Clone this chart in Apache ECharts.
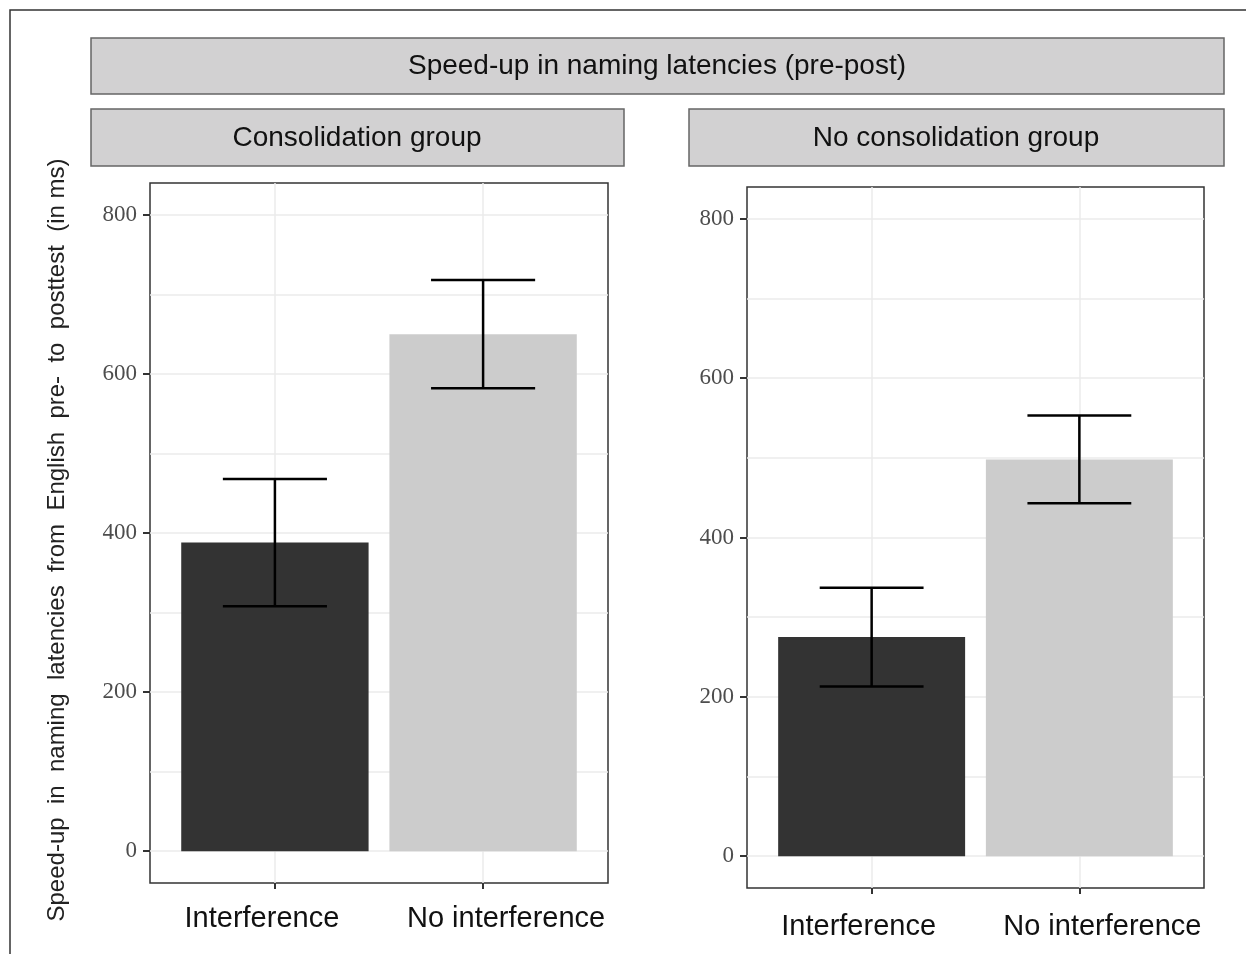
<!DOCTYPE html>
<html>
<head>
<meta charset="utf-8">
<script src="https://cdn.jsdelivr.net/npm/echarts@6/dist/echarts.min.js"></script>
<style>
  html, body { margin: 0; padding: 0; background: #fff; }
  #chart { width: 1246px; height: 954px; }
</style>
</head>
<body>
<div id="chart"></div>
<script>
// data (ms)
var conditions = ['Interference', 'No interference'];
var conditionPos = [1, 2];
var consolidationMean = [388, 650];
var consolidationSE = [80, 68];
var noConsolidationMean = [275, 498];
var noConsolidationSE = [62, 55];
var yTicks = [0, 200, 400, 600, 800];
var yMinor = [100, 300, 500, 700];

var barColors = ['#333333', '#cccccc'];
var sans = 'Liberation Sans, Arial, sans-serif';
var serif = 'Liberation Serif, Times New Roman, serif';

var chart = echarts.init(document.getElementById('chart'));

function barData(means) {
  return means.map(function (m, i) { return [conditionPos[i], m]; });
}
function errData(means, se) {
  return means.map(function (m, i) { return [conditionPos[i], m - se[i], m + se[i]]; });
}

function renderBar(params, api) {
  var x = api.value(0);
  var top = api.coord([x, api.value(1)]);
  var base = api.coord([x, 0]);
  var w = api.size([0.9, 0])[0];
  return {
    type: 'rect',
    shape: { x: top[0] - w / 2, y: top[1], width: w, height: base[1] - top[1] },
    style: { fill: barColors[params.dataIndex] }
  };
}

function renderErr(params, api) {
  var x = api.value(0);
  var lo = api.coord([x, api.value(1)]);
  var hi = api.coord([x, api.value(2)]);
  var hw = api.size([0.5, 0])[0] / 2;
  var st = { stroke: '#000', lineWidth: 2.5 };
  return {
    type: 'group',
    children: [
      { type: 'line', shape: { x1: lo[0], y1: lo[1], x2: hi[0], y2: hi[1] }, style: st },
      { type: 'line', shape: { x1: lo[0] - hw, y1: lo[1], x2: lo[0] + hw, y2: lo[1] }, style: st },
      { type: 'line', shape: { x1: hi[0] - hw, y1: hi[1], x2: hi[0] + hw, y2: hi[1] }, style: st }
    ]
  };
}

function xAxisFor(gi, margin) {
  return {
    type: 'value', gridIndex: gi, min: 0.4, max: 2.6,
    axisLine: { show: false, onZero: false },
    axisTick: { show: true, length: 6, customValues: conditionPos, lineStyle: { color: '#333', width: 2 } },
    axisLabel: {
      customValues: conditionPos, margin: margin,
      color: '#111', fontFamily: sans, fontSize: 29,
      // labels in the figure sit a little apart from their ticks
      formatter: function (v) {
        var i = Math.round(v) - 1;
        return '{c' + i + '|' + conditions[i] + '}';
      },
      rich: {
        c0: { fontFamily: sans, fontSize: 29, color: '#111', padding: [0, 26, 0, 0] },
        c1: { fontFamily: sans, fontSize: 29, color: '#111', padding: [0, 0, 0, 46] }
      }
    },
    splitLine: { show: true, lineStyle: { color: '#ebebeb', width: 1.5 } }
  };
}

function yAxisFor(gi) {
  return {
    type: 'value', gridIndex: gi, min: -40, max: 840,
    axisLine: { show: false, onZero: false },
    axisTick: { show: true, length: 7, customValues: yTicks, lineStyle: { color: '#333', width: 2 } },
    axisLabel: { customValues: yTicks, margin: 13, color: '#4d4d4d', fontFamily: serif, fontSize: 23 },
    splitLine: { show: true, lineStyle: { color: '#ebebeb', width: 1.5 } }
  };
}

function yMinorFor(gi) {
  return {
    type: 'value', gridIndex: gi, min: -40, max: 840,
    axisLine: { show: false, onZero: false },
    axisTick: { show: false, customValues: yMinor },
    axisLabel: { show: false, customValues: yMinor },
    splitLine: { show: true, lineStyle: { color: '#ebebeb', width: 1.5 } }
  };
}

var gridStyle = { show: true, borderColor: '#333', borderWidth: 1.5, backgroundColor: '#fff' };

chart.setOption({
  animation: false,
  grid: [
    Object.assign({ left: 150, top: 183, width: 458, height: 700 }, gridStyle),
    Object.assign({ left: 747, top: 187, width: 457, height: 701 }, gridStyle)
  ],
  xAxis: [xAxisFor(0, 21), xAxisFor(1, 24)],
  yAxis: [yAxisFor(0), yAxisFor(1), yMinorFor(0), yMinorFor(1)],
  graphic: [
    // outer frame of the figure
    { type: 'rect', shape: { x: 10, y: 10, width: 1300, height: 1000 }, style: { fill: null, stroke: '#333', lineWidth: 1.5 } },
    // facet strips
    { type: 'rect', shape: { x: 91, y: 38, width: 1133, height: 56 }, style: { fill: '#d2d1d2', stroke: '#666', lineWidth: 1.5 } },
    { type: 'text', x: 657, y: 66, style: { text: 'Speed-up in naming latencies (pre-post)', font: '28px ' + sans, fill: '#111', align: 'center', verticalAlign: 'middle' } },
    { type: 'rect', shape: { x: 91, y: 109, width: 533, height: 57 }, style: { fill: '#d2d1d2', stroke: '#666', lineWidth: 1.5 } },
    { type: 'text', x: 357, y: 138, style: { text: 'Consolidation group', font: '28px ' + sans, fill: '#111', align: 'center', verticalAlign: 'middle' } },
    { type: 'rect', shape: { x: 689, y: 109, width: 535, height: 57 }, style: { fill: '#d2d1d2', stroke: '#666', lineWidth: 1.5 } },
    { type: 'text', x: 956, y: 138, style: { text: 'No consolidation group', font: '28px ' + sans, fill: '#111', align: 'center', verticalAlign: 'middle' } },
    // y axis title
    { type: 'text', x: 57, y: 540, rotation: Math.PI / 2, style: { text: 'Speed-up  in  naming  latencies  from  English  pre-  to  posttest  (in ms)', font: '24px ' + sans, fill: '#222', align: 'center', verticalAlign: 'middle' } }
  ],
  series: [
    { type: 'custom', xAxisIndex: 0, yAxisIndex: 0, renderItem: renderBar, data: barData(consolidationMean), z: 2 },
    { type: 'custom', xAxisIndex: 0, yAxisIndex: 0, renderItem: renderErr, data: errData(consolidationMean, consolidationSE), z: 3 },
    { type: 'custom', xAxisIndex: 1, yAxisIndex: 1, renderItem: renderBar, data: barData(noConsolidationMean), z: 2 },
    { type: 'custom', xAxisIndex: 1, yAxisIndex: 1, renderItem: renderErr, data: errData(noConsolidationMean, noConsolidationSE), z: 3 }
  ]
});

window.addEventListener('resize', function () {
  chart.resize();
});
</script>
</body>
</html>
